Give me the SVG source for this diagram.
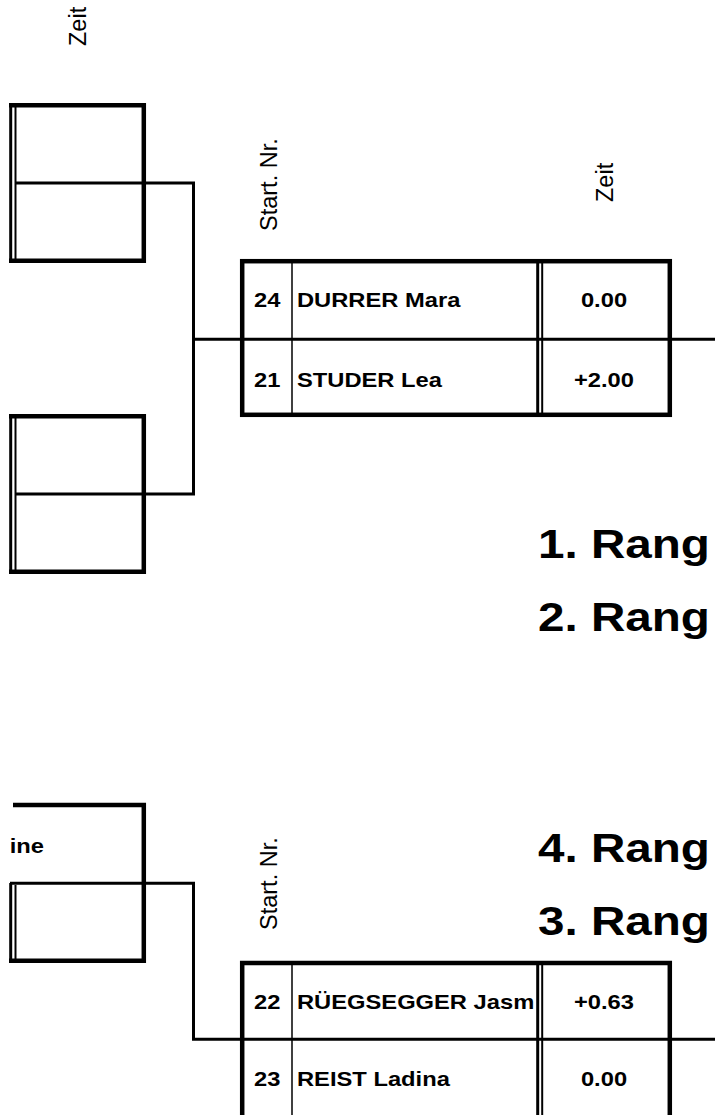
<svg xmlns="http://www.w3.org/2000/svg" width="715" height="1115" viewBox="0 0 715 1115">
<style>
.thick{stroke:#000;stroke-width:4.5;fill:none}
.line{stroke:#000;stroke-width:3;fill:none}
.thin{stroke:#000;stroke-width:1.5;fill:none}
.dbl2{stroke:#000;stroke-width:2;fill:none}
.lbl{font-family:"Liberation Sans",Arial,sans-serif;font-size:23.5px;fill:#000}
.cell{font-family:"Liberation Sans",Arial,sans-serif;font-size:21px;font-weight:bold;fill:#000}
.rank{font-family:"Liberation Sans",Arial,sans-serif;font-size:40px;font-weight:bold;fill:#000}
</style>
<defs>
<clipPath id="nameclip"><rect x="293" y="963" width="243" height="78"/></clipPath>
</defs>
<rect width="715" height="1115" fill="#fff"/>

<g id="connectors">
<polyline class="line" points="146,183 193.5,183 193.5,494 146,494"/>
<line class="line" x1="193.5" y1="339.3" x2="715" y2="339.3"/>
<polyline class="line" points="10,883.3 193.5,883.3 193.5,1039.3 715,1039.3"/>
</g>

<text class="lbl" transform="translate(86,46) rotate(-90)">Zeit</text>

<g id="box1">
<line class="thick" x1="9" y1="105.2" x2="146" y2="105.2"/>
<line class="thick" x1="143.8" y1="103" x2="143.8" y2="263"/>
<line class="thick" x1="9" y1="260.8" x2="146" y2="260.8"/>
<line class="line" x1="10.7" y1="103" x2="10.7" y2="263"/>
<line class="dbl2" x1="15.5" y1="106" x2="15.5" y2="260"/>
<line class="line" x1="15" y1="183" x2="146" y2="183"/>
</g>

<g id="box2">
<line class="thick" x1="9" y1="416.2" x2="146" y2="416.2"/>
<line class="thick" x1="143.8" y1="414" x2="143.8" y2="574"/>
<line class="thick" x1="9" y1="571.8" x2="146" y2="571.8"/>
<line class="line" x1="10.7" y1="414" x2="10.7" y2="574"/>
<line class="dbl2" x1="15.5" y1="417" x2="15.5" y2="571"/>
<line class="line" x1="15" y1="494" x2="146" y2="494"/>
</g>

<g id="header1">
<text class="lbl" transform="translate(277,231) rotate(-90)">Start. Nr.</text>
<text class="lbl" transform="translate(613,202) rotate(-90)">Zeit</text>
</g>

<g id="table1">
<rect class="thick" x="242.2" y="261.2" width="427.6" height="153.6"/>
<line class="thin" x1="292" y1="263" x2="292" y2="413"/>
<line class="line" x1="537.7" y1="263" x2="537.7" y2="413"/>
<line class="dbl2" x1="542.2" y1="263" x2="542.2" y2="413"/>
<text class="cell" transform="translate(254,307) scale(1.13,1)">24</text>
<text class="cell" transform="translate(297,307) scale(1.13,1)">DURRER Mara</text>
<text class="cell" text-anchor="middle" transform="translate(604,307) scale(1.13,1)">0.00</text>
<text class="cell" transform="translate(254,386.7) scale(1.13,1)">21</text>
<text class="cell" transform="translate(297,386.7) scale(1.13,1)">STUDER Lea</text>
<text class="cell" text-anchor="middle" transform="translate(604,386.7) scale(1.13,1)">+2.00</text>
</g>

<g id="ranks-top">
<text class="rank" transform="translate(538,558) scale(1.19,1)">1. Rang</text>
<text class="rank" transform="translate(538,631) scale(1.19,1)">2. Rang</text>
</g>

<g id="box3">
<line class="thick" x1="13" y1="805" x2="146" y2="805"/>
<line class="thick" x1="143.8" y1="803" x2="143.8" y2="963"/>
<text class="cell" text-anchor="end" transform="translate(44,853) scale(1.13,1)">ine</text>
</g>

<g id="box4">
<line class="thick" x1="9" y1="960.8" x2="146" y2="960.8"/>
<line class="line" x1="10.7" y1="883" x2="10.7" y2="963"/>
<line class="dbl2" x1="15.5" y1="885" x2="15.5" y2="959"/>
</g>

<g id="header2">
<text class="lbl" transform="translate(277,930) rotate(-90)">Start. Nr.</text>
<text class="rank" transform="translate(538,862) scale(1.19,1)">4. Rang</text>
<text class="rank" transform="translate(538,935) scale(1.19,1)">3. Rang</text>
</g>

<g id="table2">
<rect class="thick" x="242.2" y="963" width="427.6" height="200"/>
<line class="thin" x1="292" y1="965" x2="292" y2="1115"/>
<line class="line" x1="537.7" y1="965" x2="537.7" y2="1115"/>
<line class="dbl2" x1="542.2" y1="965" x2="542.2" y2="1115"/>
<text class="cell" transform="translate(254,1009) scale(1.13,1)">22</text>
<g clip-path="url(#nameclip)"><text class="cell" transform="translate(297,1009) scale(1.13,1)">RÜEGSEGGER Jasm</text></g>
<text class="cell" text-anchor="middle" transform="translate(604,1009) scale(1.13,1)">+0.63</text>
<text class="cell" transform="translate(254,1086) scale(1.13,1)">23</text>
<text class="cell" transform="translate(297,1086) scale(1.13,1)">REIST Ladina</text>
<text class="cell" text-anchor="middle" transform="translate(604,1086) scale(1.13,1)">0.00</text>
</g>
</svg>
